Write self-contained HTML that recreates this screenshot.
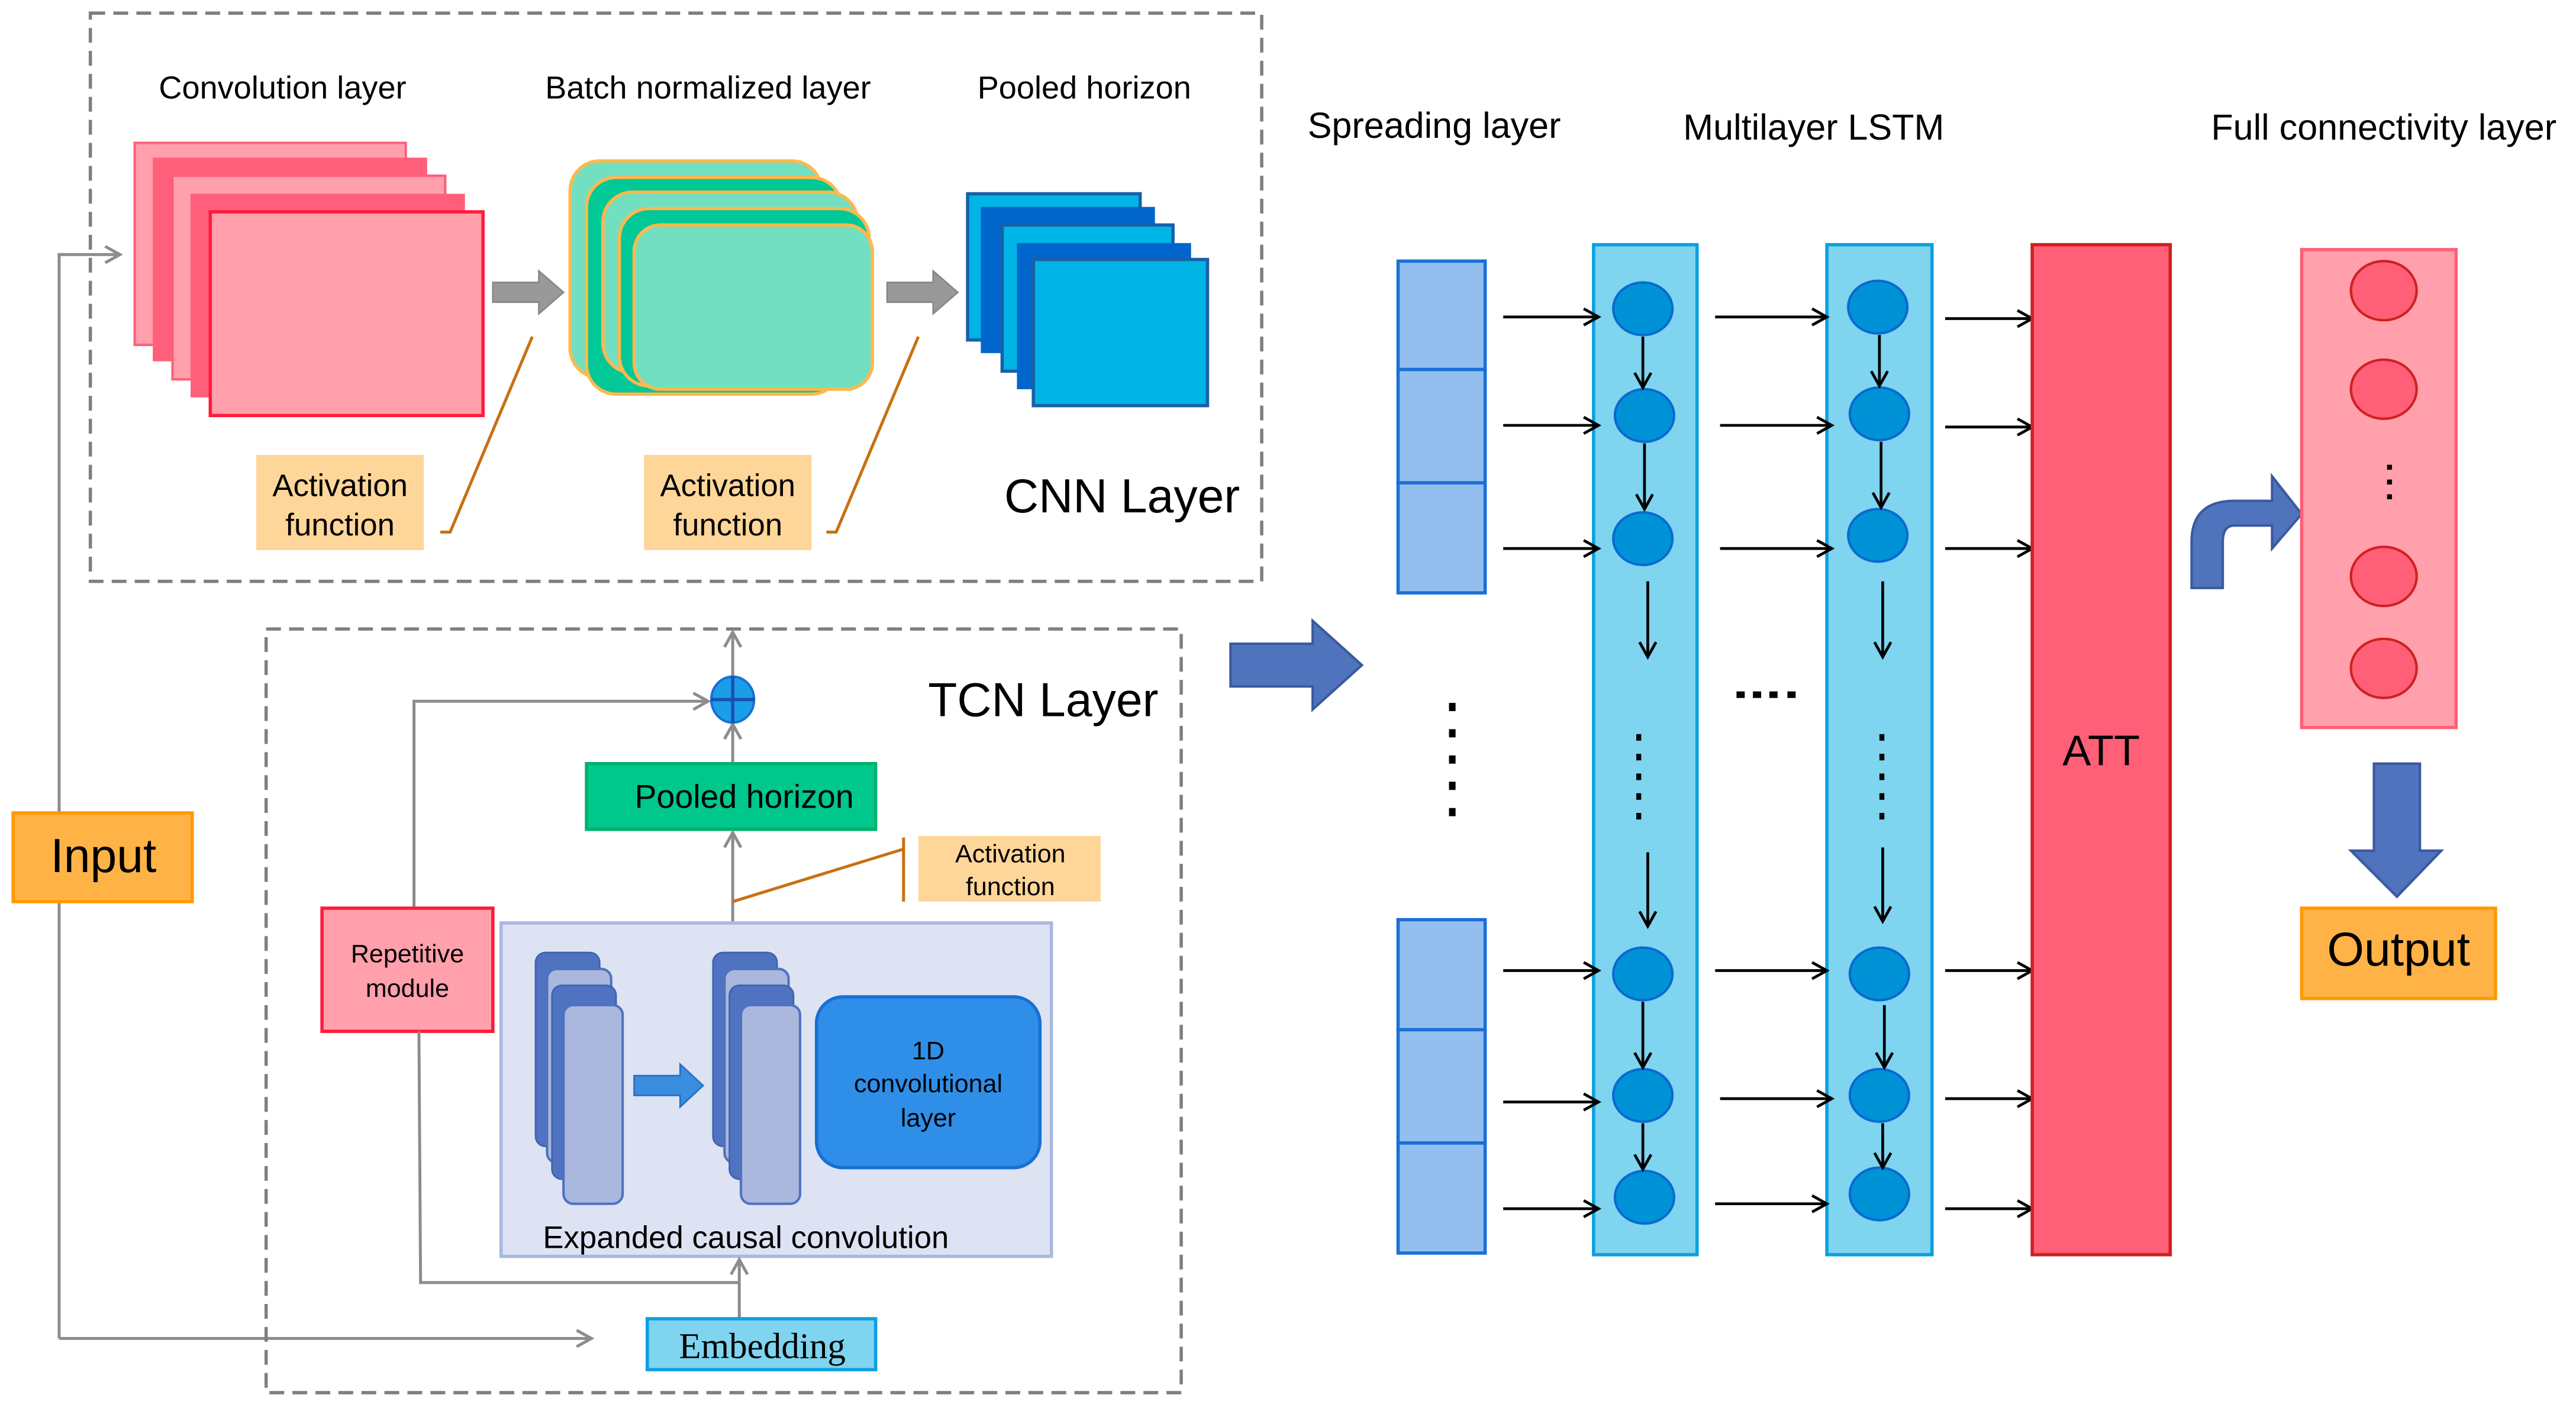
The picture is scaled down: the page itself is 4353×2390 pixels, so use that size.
<!DOCTYPE html>
<html><head><meta charset="utf-8"><style>
html,body{margin:0;padding:0;background:#fff;}
svg{display:block;}
text{font-family:"Liberation Sans",Arial,sans-serif;fill:#000;}
</style></head><body>
<svg width="4353" height="2390" viewBox="0 0 1568 861" preserveAspectRatio="none" xmlns="http://www.w3.org/2000/svg">
<defs>
<marker id="ag" markerWidth="12" markerHeight="12" refX="10" refY="6" orient="auto" markerUnits="userSpaceOnUse"><path d="M1,1 L10,6 L1,11" fill="none" stroke="#8c8c8c" stroke-width="1.8"/></marker>
<marker id="ak" markerWidth="12" markerHeight="12" refX="10" refY="6" orient="auto" markerUnits="userSpaceOnUse"><path d="M1,1 L10,6 L1,11" fill="none" stroke="#000" stroke-width="1.7"/></marker>
</defs>

<rect x="55" y="8" width="713" height="346" fill="none" stroke="#7f7f7f" stroke-width="2" stroke-dasharray="9,5"/>
<text x="172" y="60" font-size="19.5" text-anchor="middle">Convolution layer</text>
<text x="431" y="60" font-size="19.5" text-anchor="middle">Batch normalized layer</text>
<text x="660" y="60" font-size="19.5" text-anchor="middle">Pooled horizon</text>

<rect x="82" y="87" width="165" height="123" fill="#ffa0ac" stroke="#ff5f7a" stroke-width="1.5"/>
<rect x="93" y="96" width="167" height="124" fill="#ff5f7a"/>
<rect x="105" y="107" width="166" height="124" fill="#ffa0ac" stroke="#ff5f7a" stroke-width="1.5"/>
<rect x="116" y="118" width="167" height="124" fill="#ff5f7a"/>
<rect x="128" y="129" width="166" height="124" fill="#ffa0ac" stroke="#ff1a3c" stroke-width="2"/>

<path d="M300,172 L328,172 L328,165 L343,178 L328,191 L328,184 L300,184 Z" fill="#999" stroke="#888" stroke-width="1"/>
<path d="M540,172 L568,172 L568,165 L583,178 L568,191 L568,184 L540,184 Z" fill="#999" stroke="#888" stroke-width="1"/>

<rect x="347" y="98" width="153" height="132" rx="18" fill="#72e0c0" stroke="#ffb84d" stroke-width="2"/>
<rect x="357" y="108" width="155" height="132" rx="18" fill="#00c896" stroke="#ffb84d" stroke-width="2"/>
<rect x="367" y="117" width="155" height="110" rx="18" fill="#72e0c0" stroke="#ffb84d" stroke-width="2"/>
<rect x="377" y="127" width="152" height="108" rx="18" fill="#00c896" stroke="#ffb84d" stroke-width="2"/>
<rect x="386" y="137" width="145" height="100" rx="16" fill="#72e0c0" stroke="#ffb84d" stroke-width="2"/>

<rect x="589" y="118" width="105" height="89" fill="#00b4e6" stroke="#1a5fa8" stroke-width="2"/>
<rect x="597" y="126" width="106" height="89" fill="#0066cc"/>
<rect x="610" y="137" width="104" height="89" fill="#00b4e6" stroke="#1a5fa8" stroke-width="2"/>
<rect x="619" y="148" width="106" height="89" fill="#0066cc"/>
<rect x="629" y="158" width="106" height="89" fill="#00b4e6" stroke="#1a5fa8" stroke-width="2"/>

<rect x="156" y="277" width="102" height="58" fill="#ffd699"/>
<text x="207" y="302" font-size="19" text-anchor="middle">Activation</text>
<text x="207" y="326" font-size="19" text-anchor="middle">function</text>
<rect x="392" y="277" width="102" height="58" fill="#ffd699"/>
<text x="443" y="302" font-size="19" text-anchor="middle">Activation</text>
<text x="443" y="326" font-size="19" text-anchor="middle">function</text>
<path d="M268,324 L274,324 L324,205" fill="none" stroke="#c87010" stroke-width="1.8"/>
<path d="M503,324 L509,324 L559,205" fill="none" stroke="#c87010" stroke-width="1.8"/>
<text x="683" y="312" font-size="29" text-anchor="middle">CNN Layer</text>

<path d="M36,815 L36,155 L73,155" fill="none" stroke="#8c8c8c" stroke-width="1.8" marker-end="url(#ag)"/>
<path d="M36,815 L360,815" fill="none" stroke="#8c8c8c" stroke-width="1.8" marker-end="url(#ag)"/>
<rect x="8" y="495" width="109" height="54" fill="#ffb347" stroke="#ff9900" stroke-width="2"/>
<text x="63" y="531" font-size="29" text-anchor="middle">Input</text>

<rect x="162" y="383" width="557" height="465" fill="none" stroke="#7f7f7f" stroke-width="2" stroke-dasharray="9,5"/>
<text x="635" y="436" font-size="29" text-anchor="middle">TCN Layer</text>

<path d="M446,412 L446,385" fill="none" stroke="#8c8c8c" stroke-width="1.8" marker-end="url(#ag)"/>
<path d="M252,553 L252,427 L431,427" fill="none" stroke="#8c8c8c" stroke-width="1.8" marker-end="url(#ag)"/>
<path d="M446,465 L446,441" fill="none" stroke="#8c8c8c" stroke-width="1.8" marker-end="url(#ag)"/>
<ellipse cx="446" cy="426" rx="13" ry="14" fill="#1a9ee8" stroke="#1a6fd6" stroke-width="1.5"/>
<path d="M433,426 L459,426 M446,412 L446,440" stroke="#1a4fb0" stroke-width="2"/>

<rect x="357" y="465" width="176" height="40" fill="#00c78c" stroke="#00b36b" stroke-width="2"/>
<text x="453" y="492" font-size="20" text-anchor="middle">Pooled horizon</text>

<path d="M446,562 L446,507" fill="none" stroke="#8c8c8c" stroke-width="1.8" marker-end="url(#ag)"/>
<path d="M446,549 L550,517" stroke="#c87010" stroke-width="1.8"/>
<path d="M550,510 L550,549" stroke="#c87010" stroke-width="1.8"/>
<rect x="559" y="509" width="111" height="40" fill="#ffd699"/>
<text x="615" y="525" font-size="15.5" text-anchor="middle">Activation</text>
<text x="615" y="545" font-size="15.5" text-anchor="middle">function</text>

<rect x="305" y="562" width="335" height="203" fill="#dde3f3" stroke="#a9b8e0" stroke-width="2"/>
<rect x="326" y="580" width="39" height="118" rx="6" fill="#4f73c0" stroke="#3f63b0"/>
<rect x="333" y="590" width="39" height="118" rx="6" fill="#aab8de" stroke="#4f73c0" stroke-width="1.5"/>
<rect x="336" y="600" width="39" height="118" rx="6" fill="#4f73c0" stroke="#3f63b0"/>
<rect x="343" y="612" width="36" height="121" rx="6" fill="#aab8de" stroke="#4f73c0" stroke-width="1.5"/>
<rect x="434" y="580" width="39" height="118" rx="6" fill="#4f73c0" stroke="#3f63b0"/>
<rect x="441" y="590" width="39" height="118" rx="6" fill="#aab8de" stroke="#4f73c0" stroke-width="1.5"/>
<rect x="444" y="600" width="39" height="118" rx="6" fill="#4f73c0" stroke="#3f63b0"/>
<rect x="451" y="612" width="36" height="121" rx="6" fill="#aab8de" stroke="#4f73c0" stroke-width="1.5"/>
<path d="M386,655 L414,655 L414,648 L428,661 L414,674 L414,667 L386,667 Z" fill="#3a8ee0" stroke="#2a70c0"/>
<rect x="497" y="607" width="136" height="104" rx="16" fill="#2f8fe8" stroke="#1a6fd6" stroke-width="2"/>
<text x="565" y="645" font-size="15.5" text-anchor="middle">1D</text>
<text x="565" y="665" font-size="15.5" text-anchor="middle">convolutional</text>
<text x="565" y="686" font-size="15.5" text-anchor="middle">layer</text>
<text x="454" y="760" font-size="19" text-anchor="middle">Expanded causal convolution</text>

<rect x="196" y="553" width="104" height="75" fill="#ffa0ac" stroke="#ff1a3c" stroke-width="2"/>
<text x="248" y="586" font-size="15.5" text-anchor="middle">Repetitive</text>
<text x="248" y="607" font-size="15.5" text-anchor="middle">module</text>

<path d="M255,628 L256,781 L450,781" fill="none" stroke="#8c8c8c" stroke-width="1.8"/>
<path d="M450,803 L450,767" fill="none" stroke="#8c8c8c" stroke-width="1.8" marker-end="url(#ag)"/>
<rect x="394" y="803" width="139" height="31" fill="#7fd4f0" stroke="#0aa0e0" stroke-width="2"/>
<text x="464" y="827" font-size="22" text-anchor="middle" style="font-family:'Liberation Serif',serif">Embedding</text>

<path d="M749,392 L799,392 L799,378 L829,405 L799,432 L799,418 L749,418 Z" fill="#4f73bd" stroke="#3a5a9e" stroke-width="1.5"/>

<text x="873" y="84" font-size="22" text-anchor="middle">Spreading layer</text>
<text x="1104" y="85" font-size="22" text-anchor="middle">Multilayer LSTM</text>
<text x="1451" y="85" font-size="22" text-anchor="middle">Full connectivity layer</text>

<g fill="#93bff0" stroke="#1a6fd6" stroke-width="2">
<rect x="851" y="159" width="53" height="66"/><rect x="851" y="225" width="53" height="69"/><rect x="851" y="294" width="53" height="67"/>
<rect x="851" y="560" width="53" height="67"/><rect x="851" y="627" width="53" height="69"/><rect x="851" y="696" width="53" height="67"/>
</g>
<g fill="#000"><rect x="882" y="428" width="4" height="5"/><rect x="882" y="444" width="4" height="5"/><rect x="882" y="460" width="4" height="5"/><rect x="882" y="476" width="4" height="5"/><rect x="882" y="492" width="4" height="5"/></g>

<rect x="970" y="149" width="63" height="615" fill="#7fd4f0" stroke="#0aa0e0" stroke-width="2"/>
<rect x="1112" y="149" width="64" height="615" fill="#7fd4f0" stroke="#0aa0e0" stroke-width="2"/>
<g fill="#0092d6" stroke="#0a6ad0" stroke-width="1.5">
<ellipse cx="1000" cy="188" rx="18" ry="16"/><ellipse cx="1001" cy="253" rx="18" ry="16"/><ellipse cx="1000" cy="328" rx="18" ry="16"/>
<ellipse cx="1000" cy="593" rx="18" ry="16"/><ellipse cx="1000" cy="667" rx="18" ry="16"/><ellipse cx="1001" cy="729" rx="18" ry="16"/>
<ellipse cx="1143" cy="187" rx="18" ry="16"/><ellipse cx="1144" cy="252" rx="18" ry="16"/><ellipse cx="1143" cy="326" rx="18" ry="16"/>
<ellipse cx="1144" cy="593" rx="18" ry="16"/><ellipse cx="1144" cy="667" rx="18" ry="16"/><ellipse cx="1144" cy="727" rx="18" ry="16"/>
</g>
<g stroke="#000" stroke-width="1.7" fill="none" marker-end="url(#ak)">
<path d="M1000,205 L1000,236"/><path d="M1001,270 L1001,310"/><path d="M1003,354 L1003,400"/><path d="M1003,519 L1003,564"/>
<path d="M1000,610 L1000,650"/><path d="M1000,684 L1000,712"/>
<path d="M1144,204 L1144,235"/><path d="M1145,269 L1145,309"/><path d="M1146,354 L1146,400"/><path d="M1146,516 L1146,561"/>
<path d="M1147,612 L1147,650"/><path d="M1146,684 L1146,711"/>
<path d="M915,193 L973,193"/><path d="M915,259 L973,259"/><path d="M915,334 L973,334"/><path d="M915,591 L973,591"/><path d="M915,671 L973,671"/><path d="M915,736 L973,736"/>
<path d="M1044,193 L1112,193"/><path d="M1047,259 L1115,259"/><path d="M1047,334 L1115,334"/><path d="M1044,591 L1112,591"/><path d="M1047,669 L1115,669"/><path d="M1044,733 L1112,733"/>
<path d="M1184,194 L1237,194"/><path d="M1184,260 L1237,260"/><path d="M1184,334 L1237,334"/><path d="M1184,591 L1237,591"/><path d="M1184,669 L1237,669"/><path d="M1184,736 L1237,736"/>
</g>
<g fill="#000">
<rect x="996" y="447" width="3" height="4"/><rect x="996" y="459" width="3" height="4"/><rect x="996" y="471" width="3" height="4"/><rect x="996" y="483" width="3" height="4"/><rect x="996" y="495" width="3" height="4"/>
<rect x="1144" y="447" width="3" height="4"/><rect x="1144" y="459" width="3" height="4"/><rect x="1144" y="471" width="3" height="4"/><rect x="1144" y="483" width="3" height="4"/><rect x="1144" y="495" width="3" height="4"/>
<rect x="1057" y="421" width="5" height="4"/><rect x="1067" y="421" width="5" height="4"/><rect x="1077" y="421" width="5" height="4"/><rect x="1088" y="421" width="5" height="4"/>
</g>

<rect x="1237" y="149" width="84" height="615" fill="#ff5f77" stroke="#d02020" stroke-width="2"/>
<text x="1279" y="466" font-size="26" text-anchor="middle">ATT</text>

<path d="M1334,358 L1334,330 Q1334,305 1360,305 L1383,305 L1383,290 L1401,313 L1383,334 L1383,320 L1360,320 Q1353,320 1353,330 L1353,358 Z" fill="#4f73bd" stroke="#3a5a9e" stroke-width="1.5"/>

<rect x="1401" y="152" width="94" height="291" fill="#ffa0ac" stroke="#ff5f77" stroke-width="2"/>
<g fill="#ff5f77" stroke="#d02020" stroke-width="1.5">
<ellipse cx="1451" cy="177" rx="20" ry="18"/><ellipse cx="1451" cy="237" rx="20" ry="18"/><ellipse cx="1451" cy="351" rx="20" ry="18"/><ellipse cx="1451" cy="407" rx="20" ry="18"/>
</g>
<g fill="#000"><rect x="1453" y="283" width="3" height="3"/><rect x="1453" y="292" width="3" height="3"/><rect x="1453" y="301" width="3" height="3"/></g>

<path d="M1445,465 L1473,465 L1473,518 L1486,518 L1459,546 L1431,518 L1445,518 Z" fill="#4f73bd" stroke="#3a5a9e" stroke-width="1.5"/>
<rect x="1401" y="553" width="118" height="55" fill="#ffb347" stroke="#ff9900" stroke-width="2"/>
<text x="1460" y="588" font-size="29" text-anchor="middle">Output</text>
</svg>
</body></html>
